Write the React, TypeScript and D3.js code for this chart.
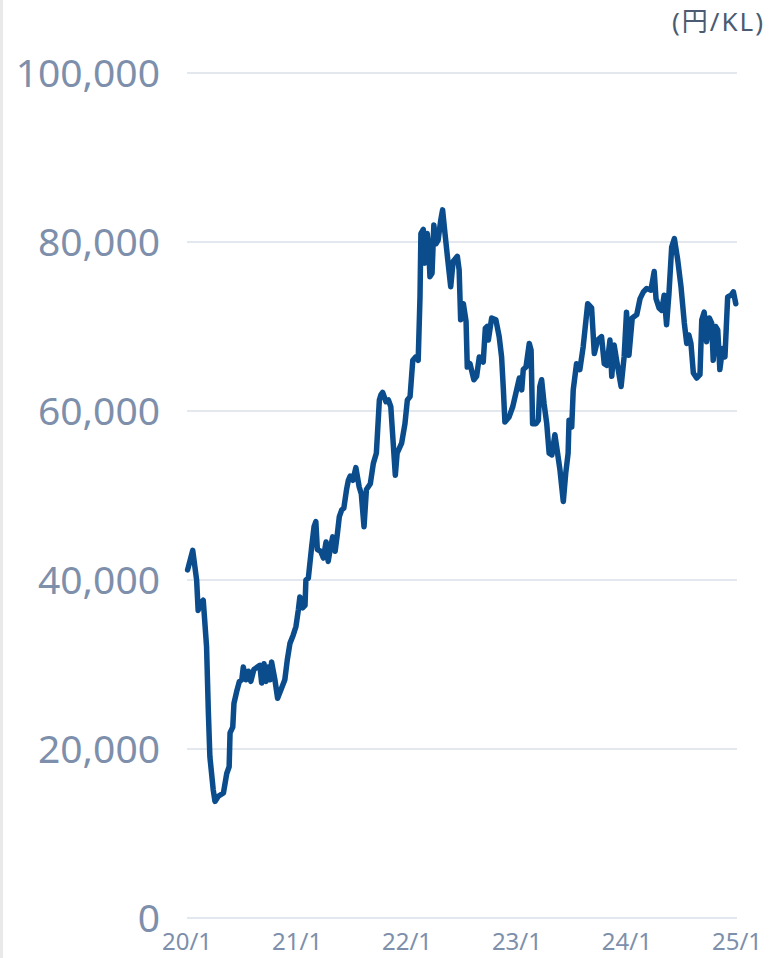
import * as d3 from "d3";

// weekly-ish price samples (円/KL)
const dates = [
  "2020-01-03", "2020-01-20", "2020-02-02", "2020-02-07", "2020-02-15", "2020-02-24", "2020-03-06", "2020-03-12",
  "2020-03-17", "2020-03-28", "2020-04-03", "2020-04-14", "2020-05-01", "2020-05-12", "2020-05-20", "2020-05-23",
  "2020-06-01", "2020-06-05", "2020-06-14", "2020-06-23", "2020-07-01", "2020-07-06", "2020-07-15", "2020-07-23",
  "2020-07-31", "2020-08-10", "2020-08-30", "2020-09-05", "2020-09-13", "2020-09-19", "2020-09-26", "2020-10-03",
  "2020-10-08", "2020-10-19", "2020-10-28", "2020-11-10", "2020-11-21", "2020-11-29", "2020-12-08", "2020-12-19",
  "2020-12-28", "2021-01-05", "2021-01-10", "2021-01-19", "2021-01-27", "2021-01-30", "2021-02-07", "2021-02-18",
  "2021-02-26", "2021-03-04", "2021-03-09", "2021-03-20", "2021-03-29", "2021-04-07", "2021-04-14", "2021-04-22",
  "2021-04-29", "2021-05-07", "2021-05-14", "2021-05-21", "2021-05-29", "2021-06-05", "2021-06-14", "2021-06-20",
  "2021-06-26", "2021-07-05", "2021-07-15", "2021-07-26", "2021-08-02", "2021-08-11", "2021-08-19", "2021-09-01",
  "2021-09-11", "2021-09-21", "2021-10-01", "2021-10-06", "2021-10-12", "2021-10-23", "2021-10-31", "2021-11-08",
  "2021-11-16", "2021-11-23", "2021-11-29", "2021-12-14", "2021-12-25", "2022-01-02", "2022-01-11", "2022-01-20",
  "2022-01-30", "2022-02-07", "2022-02-13", "2022-02-16", "2022-02-24", "2022-03-02", "2022-03-09", "2022-03-14",
  "2022-03-18", "2022-03-25", "2022-03-31", "2022-04-07", "2022-04-14", "2022-04-23", "2022-04-29", "2022-05-07",
  "2022-05-15", "2022-05-26", "2022-06-03", "2022-06-17", "2022-06-23", "2022-06-28", "2022-07-07", "2022-07-16",
  "2022-07-20", "2022-07-29", "2022-08-11", "2022-08-20", "2022-08-29", "2022-09-11", "2022-09-18", "2022-09-24",
  "2022-09-28", "2022-10-09", "2022-10-23", "2022-11-03", "2022-11-11", "2022-11-17", "2022-11-22", "2022-12-06",
  "2022-12-18", "2022-12-31", "2023-01-09", "2023-01-17", "2023-01-22", "2023-01-31", "2023-02-11", "2023-02-17",
  "2023-02-22", "2023-03-05", "2023-03-13", "2023-03-18", "2023-03-24", "2023-04-01", "2023-04-10", "2023-04-18",
  "2023-04-27", "2023-05-07", "2023-05-16", "2023-05-24", "2023-06-04", "2023-06-12", "2023-06-20", "2023-06-23",
  "2023-07-02", "2023-07-07", "2023-07-18", "2023-07-29", "2023-08-09", "2023-08-24", "2023-09-06", "2023-09-15",
  "2023-09-26", "2023-10-09", "2023-10-18", "2023-10-27", "2023-11-06", "2023-11-12", "2023-11-20", "2023-11-28",
  "2023-12-13", "2023-12-23", "2023-12-31", "2024-01-08", "2024-01-19", "2024-02-03", "2024-02-14", "2024-02-25",
  "2024-03-07", "2024-03-21", "2024-04-01", "2024-04-07", "2024-04-17", "2024-04-26", "2024-05-04", "2024-05-12",
  "2024-05-20", "2024-05-29", "2024-06-07", "2024-06-18", "2024-06-29", "2024-07-10", "2024-07-18", "2024-07-25",
  "2024-08-01", "2024-08-09", "2024-08-20", "2024-08-31", "2024-09-06", "2024-09-14", "2024-09-22", "2024-10-01",
  "2024-10-09", "2024-10-14", "2024-10-22", "2024-10-29", "2024-11-05", "2024-11-14", "2024-11-22", "2024-12-01",
  "2024-12-12", "2024-12-20", "2024-12-28",
];

const prices = [
  41200, 43500, 40000, 36400, 37200, 37600, 32100, 24300,
  19100, 15200, 13800, 14400, 14800, 17100, 17900, 21900,
  22600, 25400, 26800, 28000, 28200, 29700, 28200, 29200,
  28000, 29400, 29900, 27800, 30100, 28000, 29700, 28200,
  30300, 28200, 26000, 27200, 28200, 30500, 32500, 33500,
  34500, 36500, 38000, 36700, 37000, 40000, 40200, 43900,
  46300, 46900, 43600, 43400, 42600, 44500, 42200, 43900,
  45100, 43400, 45300, 47500, 48300, 48500, 50700, 51800,
  52300, 51800, 53300, 51000, 50200, 46300, 50700, 51400,
  53800, 55000, 61300, 61900, 62200, 61100, 61300, 60500,
  56200, 52400, 55000, 56200, 58500, 61300, 61700, 66000,
  66400, 66000, 73500, 81000, 81500, 77500, 81000, 79400,
  75900, 76300, 82000, 79800, 80200, 82600, 83800, 81000,
  78300, 74700, 77700, 78300, 76700, 70800, 72700, 70600,
  65200, 65600, 63700, 64100, 66400, 65800, 69800, 70000,
  68400, 71000, 70800, 68800, 66400, 62500, 58700, 59300,
  60500, 62500, 63900, 62500, 64900, 65200, 68000, 67200,
  58500, 58500, 58900, 62900, 63700, 60900, 58500, 55000,
  54800, 57200, 55000, 53000, 49300, 52600, 55000, 58900,
  58100, 62500, 65600, 64900, 67600, 72700, 72200, 66800,
  68400, 68800, 65600, 65400, 68400, 64100, 67800, 66000,
  62900, 66400, 71700, 66600, 71000, 71400, 73300, 74100,
  74500, 74300, 76500, 73300, 72200, 71900, 73700, 70200,
  73900, 79400, 80400, 77900, 74700, 70400, 68000, 69000,
  68000, 64500, 63900, 64300, 70800, 71700, 68200, 71000,
  70400, 66000, 70000, 69600, 64900, 67400, 66400, 73500,
  73700, 74100, 72700,
];

const yTicks = [0, 20000, 40000, 60000, 80000, 100000];
const xTickLabels = ["20/1", "21/1", "22/1", "23/1", "24/1", "25/1"];
const unitLabel = "(円/KL)";

const W = 772;
const H = 958;
const FONT = "'Noto Sans', 'Noto Sans CJK JP', sans-serif";

export default function App() {
  const parse = d3.timeParse("%Y-%m-%d");
  const data = dates.map((d, i) => ({ date: parse(d) as Date, value: prices[i] }));

  const x = d3
    .scaleTime()
    .domain([new Date(2020, 0, 1), new Date(2025, 0, 1)])
    .range([187, 737]);
  const y = d3.scaleLinear().domain([0, 100000]).range([918, 73]);

  const xTicks = d3.timeYear.range(new Date(2020, 0, 1), new Date(2025, 0, 2));

  const line = d3
    .line<{ date: Date; value: number }>()
    .x((d) => x(d.date))
    .y((d) => y(d.value));

  const fmt = d3.format(",");

  return (
    <div style={{ position: "absolute", left: 0, top: 0 }}>
      <svg width={W} height={H} style={{ display: "block", fontFamily: FONT }}>
        <rect x={0} y={0} width={W} height={H} fill="#fff" />
        <rect x={0} y={0} width={3} height={H} fill="#e9e9e9" />

        {/* grid + y labels */}
        {yTicks.map((t) => (
          <g key={t}>
            <line x1={187} x2={737} y1={y(t)} y2={y(t)} stroke="#e3e7ee" strokeWidth={2} />
            <text
              x={160}
              y={y(t)}
              dy="0.35em"
              textAnchor="end"
              fontSize={39}
              fill="#7d8fab"
            >
              {fmt(t)}
            </text>
          </g>
        ))}

        {/* x labels */}
        {xTicks.map((d, i) => (
          <text key={i} x={x(d)} y={950} textAnchor="middle" fontSize={24} fill="#7d8fab">
            {xTickLabels[i]}
          </text>
        ))}

        <text x={765} y={31} textAnchor="end" fontSize={26} letterSpacing={2} fill="#4b5b72">
          {unitLabel}
        </text>

        <path
          d={line(data) ?? ""}
          fill="none"
          stroke="#0b4d8c"
          strokeWidth={5.5}
          strokeLinejoin="round"
          strokeLinecap="round"
        />
      </svg>
    </div>
  );
}
